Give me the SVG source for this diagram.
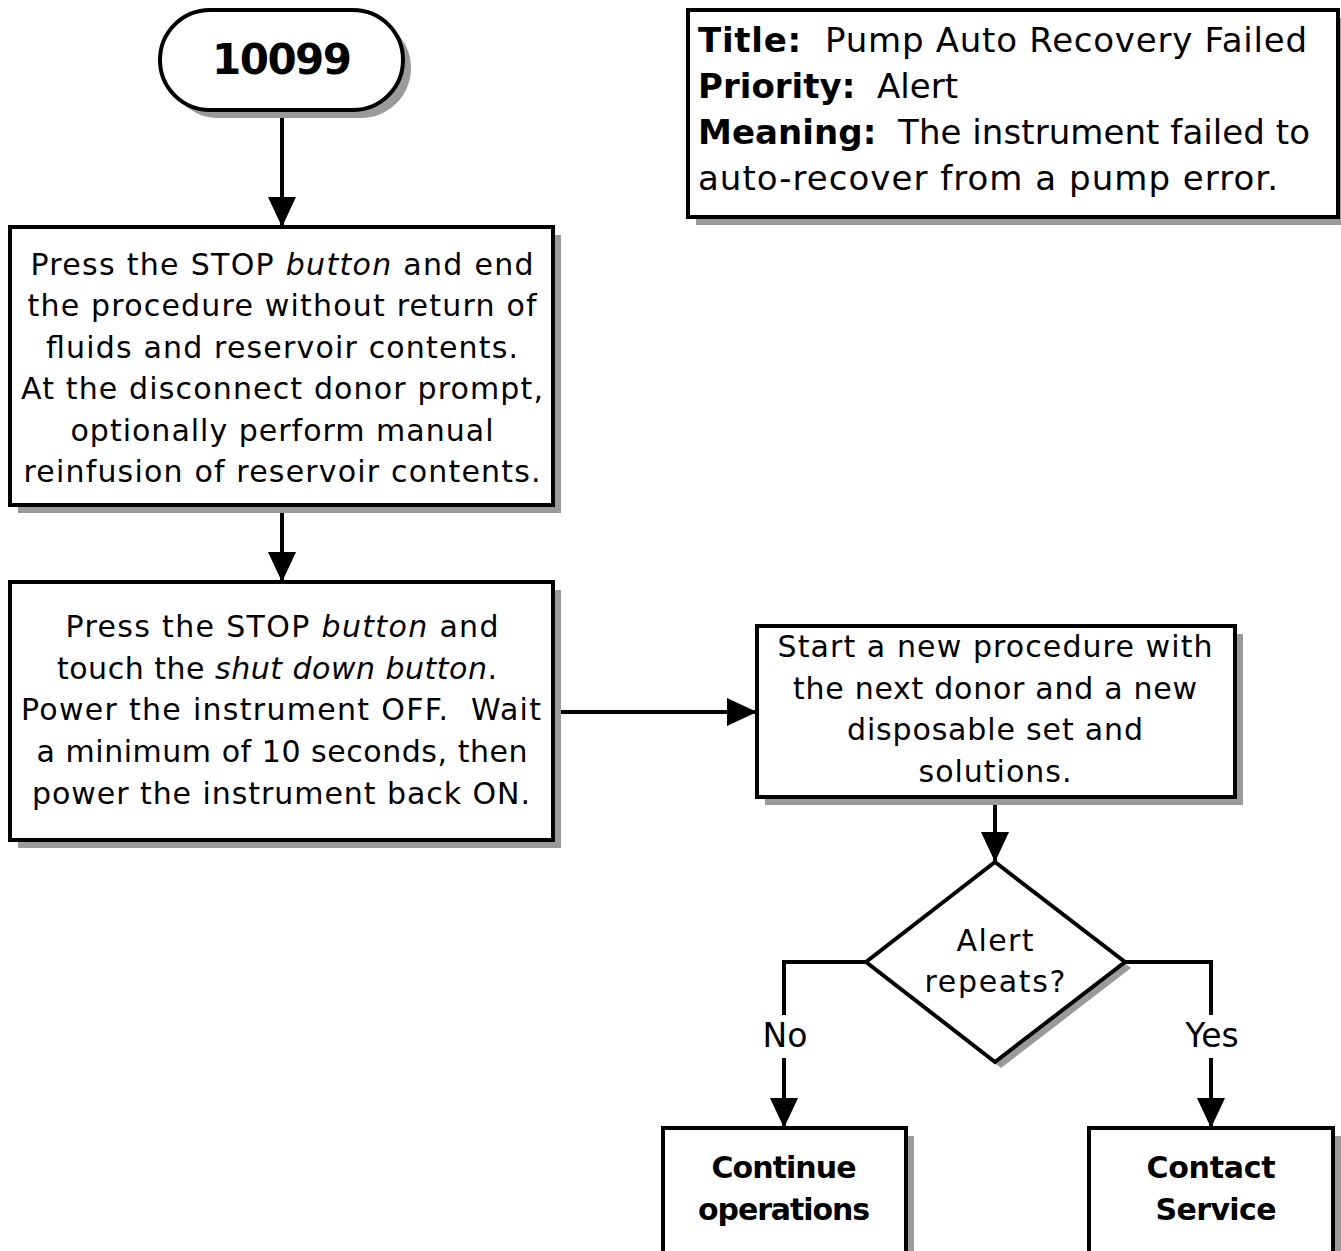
<svg xmlns="http://www.w3.org/2000/svg" width="1341" height="1251" viewBox="0 0 1341 1251">
  <style>
    .box { fill: #ffffff; stroke: #000000; stroke-width: 4; }
    .shadow { fill: #9a9a9a; stroke: none; }
    .edge { fill: none; stroke: #000000; stroke-width: 4; }
    text { font-family: "DejaVu Sans", "Noto Sans", sans-serif; fill: #000000; }
    .t { font-size: 30px; text-anchor: middle; }
    .lbl { font-size: 33px; text-anchor: middle; }
    .b { font-weight: bold; }
    .i { font-style: italic; }
    .info { font-size: 34px; }
  </style>
  <defs>
    <marker id="arrow" markerUnits="userSpaceOnUse" markerWidth="30" markerHeight="30" viewBox="0 0 30 30" refX="30" refY="15" orient="auto">
      <path d="M0,1 L30,15 L0,29 Z" fill="#000000"/>
    </marker>
  </defs>

  <!-- connectors -->
  <g id="connectors">
    <path class="edge" d="M282,110 V227" marker-end="url(#arrow)"/>
    <path class="edge" d="M282,505 V582" marker-end="url(#arrow)"/>
    <path class="edge" d="M553,712 H757" marker-end="url(#arrow)"/>
    <path class="edge" d="M995,797 V862" marker-end="url(#arrow)"/>
    <path class="edge" d="M866,962 H784 V1015"/>
    <path class="edge" d="M784,1058 V1128" marker-end="url(#arrow)"/>
    <path class="edge" d="M1125,962 H1211 V1015"/>
    <path class="edge" d="M1211,1058 V1128" marker-end="url(#arrow)"/>
    <text class="lbl" x="785" y="1047">No</text>
    <text class="lbl" x="1212" y="1047">Yes</text>
  </g>

  <!-- start terminal -->
  <g id="node-start">
    <rect class="shadow" x="168" y="18" width="243" height="100" rx="50" ry="50"/>
    <rect class="box" x="160" y="10" width="243" height="100" rx="50" ry="50"/>
    <text class="b" x="282" y="74" font-size="42" text-anchor="middle" textLength="140">10099</text>
  </g>

  <!-- info panel -->
  <g id="node-info">
    <rect class="shadow" x="696" y="18" width="650" height="207"/>
    <rect class="box" x="688" y="10" width="650" height="207"/>
    <text class="info" x="698" y="52" xml:space="preserve" textLength="609"><tspan class="b">Title:</tspan>  Pump Auto Recovery Failed</text>
    <text class="info" x="698" y="98" xml:space="preserve" textLength="260"><tspan class="b">Priority:</tspan>  Alert</text>
    <text class="info" x="698" y="144" xml:space="preserve" textLength="612"><tspan class="b">Meaning:</tspan>  The instrument failed to</text>
    <text class="info" x="698" y="190" textLength="580">auto-recover from a pump error.</text>
  </g>

  <!-- step 1 -->
  <g id="node-step1">
    <rect class="shadow" x="18" y="235" width="543" height="278"/>
    <rect class="box" x="10" y="227" width="543" height="278"/>
    <text class="t" x="282" y="275" textLength="503">Press the STOP <tspan class="i">button</tspan> and end</text>
    <text class="t" x="282" y="316" textLength="509">the procedure without return of</text>
    <text class="t" x="282" y="358" textLength="472">fluids and reservoir contents.</text>
    <text class="t" x="282" y="399" textLength="522">At the disconnect donor prompt,</text>
    <text class="t" x="282" y="441" textLength="423">optionally perform manual</text>
    <text class="t" x="282" y="482" textLength="517">reinfusion of reservoir contents.</text>
  </g>

  <!-- step 2 -->
  <g id="node-step2">
    <rect class="shadow" x="18" y="590" width="543" height="258"/>
    <rect class="box" x="10" y="582" width="543" height="258"/>
    <text class="t" x="282" y="637" textLength="433">Press the STOP <tspan class="i">button</tspan> and</text>
    <text class="t" x="277" y="679" textLength="440">touch the <tspan class="i">shut down button</tspan>.</text>
    <text class="t" x="281" y="720" xml:space="preserve" textLength="520">Power the instrument OFF.  Wait</text>
    <text class="t" x="282" y="762" textLength="491">a minimum of 10 seconds, then</text>
    <text class="t" x="281" y="804" textLength="498">power the instrument back ON.</text>
  </g>

  <!-- step 3 -->
  <g id="node-step3">
    <rect class="shadow" x="765" y="634" width="478" height="171"/>
    <rect class="box" x="757" y="626" width="478" height="171"/>
    <text class="t" x="995" y="657" textLength="435">Start a new procedure with</text>
    <text class="t" x="995" y="699" textLength="404">the next donor and a new</text>
    <text class="t" x="995" y="740" textLength="296">disposable set and</text>
    <text class="t" x="995" y="782" textLength="153">solutions.</text>
  </g>

  <!-- decision -->
  <g id="node-decision">
    <path class="shadow" d="M1001,868 L1131,968 L1001,1068 L872,968 Z"/>
    <path class="box" d="M995,862 L1125,962 L995,1062 L866,962 Z"/>
    <text class="t" x="995" y="951" textLength="77">Alert</text>
    <text class="t" x="995" y="992" textLength="141">repeats?</text>
  </g>

  <!-- outcome: no -->
  <g id="node-continue">
    <rect class="shadow" x="671" y="1136" width="243" height="130"/>
    <rect class="box" x="663" y="1128" width="243" height="130"/>
    <text class="t b" x="784" y="1178" textLength="145">Continue</text>
    <text class="t b" x="784" y="1220" textLength="172">operations</text>
  </g>

  <!-- outcome: yes -->
  <g id="node-service">
    <rect class="shadow" x="1097" y="1136" width="244" height="130"/>
    <rect class="box" x="1089" y="1128" width="244" height="130"/>
    <text class="t b" x="1211" y="1178" textLength="129">Contact</text>
    <text class="t b" x="1216" y="1220" textLength="121">Service</text>
  </g>
</svg>
